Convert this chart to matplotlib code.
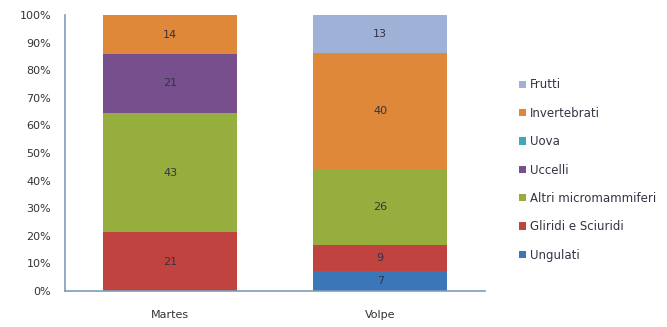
import numpy as np
import matplotlib
matplotlib.use("Agg")
import matplotlib.pyplot as plt
from matplotlib.ticker import PercentFormatter

# Diet composition, stacked to 100% per species
species = ['Martes', 'Volpe']
categories = ['Ungulati', 'Gliridi e Sciuridi', 'Altri micromammiferi',
              'Uccelli', 'Uova', 'Invertebrati', 'Frutti']
ungulati = [0, 7]
gliridi = [21, 9]
altri_micro = [43, 26]
uccelli = [21, 0]
uova = [0, 0]
invertebrati = [14, 40]
frutti = [0, 13]

colors = ['#3b77b8', '#c0433f', '#96ae3d', '#774f8d',
          '#3ea7b8', '#e0883a', '#9eb2d8']

values = np.array([ungulati, gliridi, altri_micro, uccelli, uova, invertebrati, frutti], dtype=float)
shares = values / values.sum(axis=0) * 100

fig = plt.figure(figsize=(6.67, 3.27), dpi=100)
ax = fig.add_axes([0.0975, 0.110, 0.63, 0.844])

x = np.arange(len(species))
bottom = np.zeros(len(species))
for i, cat in enumerate(categories):
    ax.bar(x, shares[i], 0.64, bottom=bottom, color=colors[i], label=cat,
           edgecolor='none')
    for j in range(len(species)):
        if values[i, j] > 0:
            ax.text(x[j], bottom[j] + shares[i, j] / 2, f'{values[i, j]:.0f}',
                    ha='center', va='center', fontsize=8, color='#333344')
    bottom += shares[i]

ax.set_xlim(-0.5, 1.5)
ax.set_ylim(0, 100)
ax.set_yticks(np.arange(0, 101, 10))
ax.yaxis.set_major_formatter(PercentFormatter(decimals=0))
ax.set_xticks(x)
ax.set_xticklabels(species)
ax.tick_params(axis='both', length=0, labelsize=8, colors='#333333')
ax.tick_params(axis='x', pad=14)
ax.tick_params(axis='y', pad=10)
for side in ['top', 'right']:
    ax.spines[side].set_visible(False)
for side in ['left', 'bottom']:
    ax.spines[side].set_color('#7f9db9')
    ax.spines[side].set_linewidth(1.2)

handles, labels = ax.get_legend_handles_labels()
leg = fig.legend(handles[::-1], labels[::-1], loc='center left',
                 bbox_to_anchor=(0.762, 0.48), frameon=False, fontsize=8.5,
                 handlelength=0.6, handleheight=0.6, handletextpad=0.3,
                 labelspacing=1.3)
for t in leg.get_texts():
    t.set_color('#333344')

fig.savefig('out.png', dpi=100)
